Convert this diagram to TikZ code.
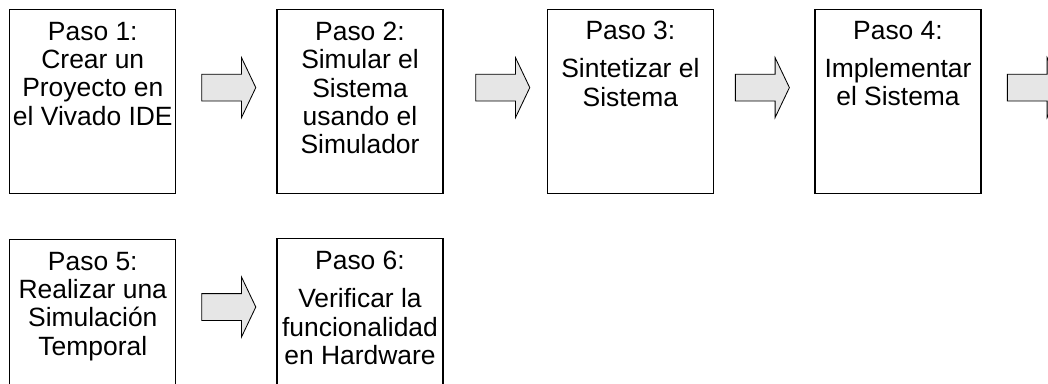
\documentclass[tikz,border=0pt]{standalone}
\usepackage{fontspec}
\setmainfont{Liberation Sans}[Ligatures=NoCommon]
\usepackage{tikz}
\usetikzlibrary{shapes.arrows}

\definecolor{grisflecha}{RGB}{230,230,230}

\tikzset{
  pasobox/.style={rectangle, draw, line width=0.9pt, anchor=north,
    minimum width=4.15cm, minimum height=4.6cm, inner sep=0pt},
  pasotext/.style={anchor=north, align=center, inner sep=0pt,
    font=\fontsize{18.8}{20.1}\selectfont},
  flecha/.style={single arrow, draw, line width=0.6pt, fill=grisflecha,
    minimum height=1.35cm, inner xsep=0pt, inner ysep=0.325cm,
    single arrow head extend=0.4125cm, single arrow tip angle=129}
}

\begin{document}
\begin{tikzpicture}

\useasboundingbox (0,0) rectangle (26.2,-9.575);
\clip (0,0) rectangle (26.2,-9.575);

% fila de arriba
\draw ( 2.32,-0.225)  node (b1) [pasobox] {} ;
\draw ( 2.32,-0.55)   node (t1) [pasotext] {Paso 1:\\Crear un\\Proyecto en\\el Vivado IDE} ;

\draw ( 5.64,-2.19)   node (a1) [flecha] {} ;

\draw ( 9.00,-0.225)  node (b2) [pasobox] {} ;
\draw ( 9.00,-0.55)   node (t2) [pasotext] {Paso 2:\\Simular el\\Sistema\\usando el\\Simulador} ;

\draw (12.49,-2.19)   node (a2) [flecha] {} ;

\draw (15.76,-0.225)  node (b3) [pasobox] {} ;
\draw (15.76,-0.53)   node (t3) [pasotext] {Paso 3:\\[0.24cm]Sintetizar el\\Sistema} ;

\draw (18.98,-2.19)   node (a3) [flecha] {} ;

\draw (22.45,-0.225)  node (b4) [pasobox] {} ;
\draw (22.45,-0.53)   node (t4) [pasotext] {Paso 4:\\[0.24cm]Implementar\\el Sistema} ;

\draw (25.78,-2.19)   node (a4) [flecha] {} ;

% fila de abajo
\draw ( 2.32,-5.975)  node (b5) [pasobox] {} ;
\draw ( 2.32,-6.3)    node (t5) [pasotext] {Paso 5:\\Realizar una\\Simulación\\Temporal} ;

\draw ( 5.64,-7.675)  node (a5) [flecha] {} ;

\draw ( 9.00,-5.95)   node (b6) [pasobox] {} ;
\draw ( 9.00,-6.28)   node (t6) [pasotext] {Paso 6:\\[0.24cm]Verificar la\\funcionalidad\\en Hardware} ;

\end{tikzpicture}
\end{document}
